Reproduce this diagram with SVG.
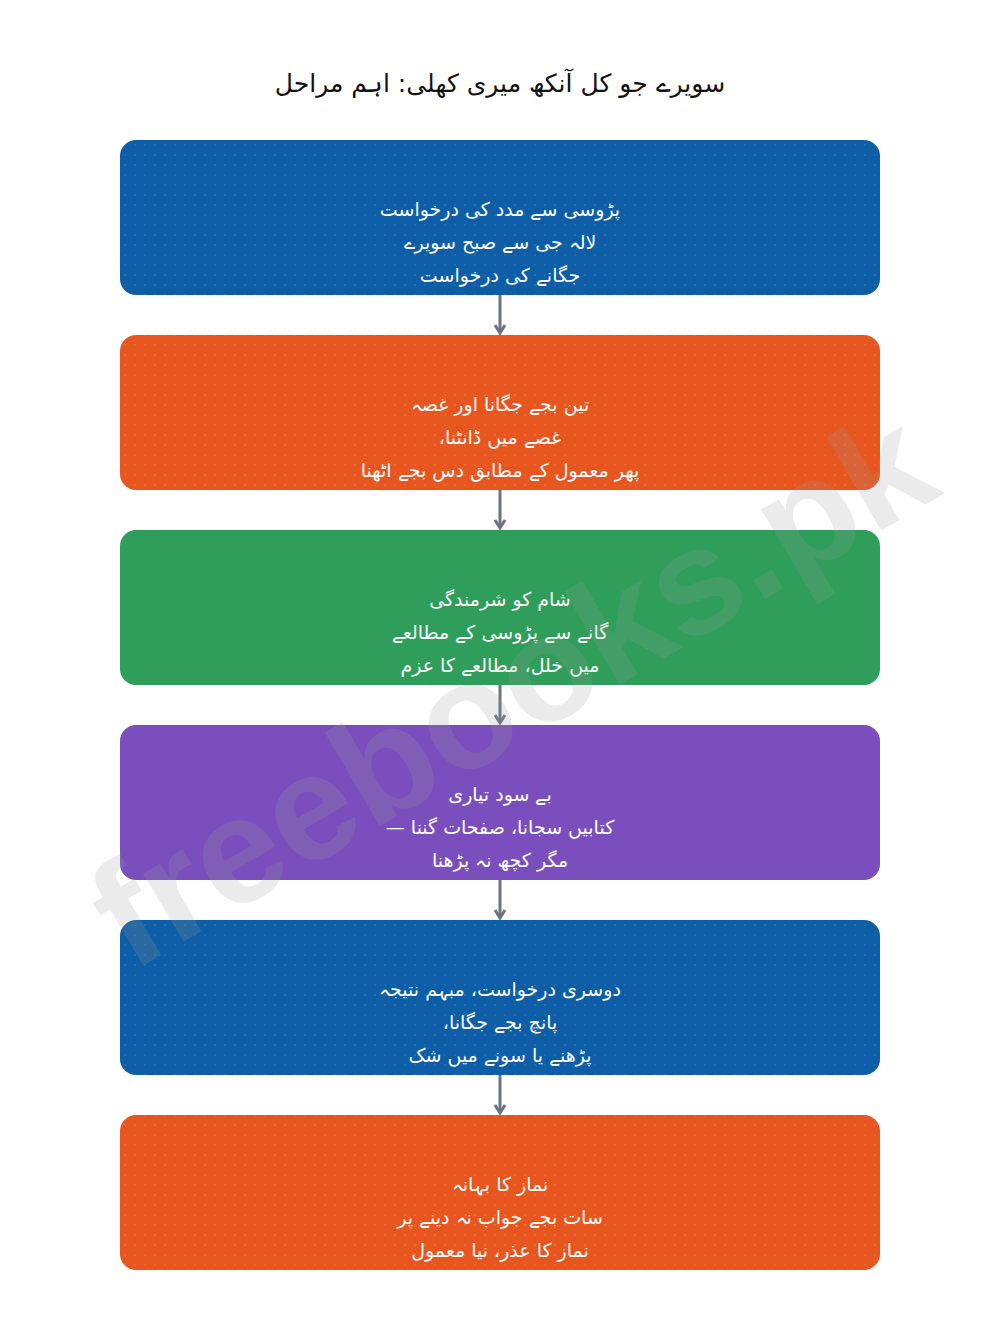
<svg xmlns="http://www.w3.org/2000/svg" width="1000" height="1330" viewBox="0 0 1000 1330">
<defs>
<pattern id="dots" width="10" height="10" patternUnits="userSpaceOnUse"><circle cx="5" cy="5" r="0.9" fill="#ffffff" fill-opacity="0.12"/></pattern>
<marker id="arr" markerWidth="12" markerHeight="12" refX="9" refY="6" orient="auto" markerUnits="userSpaceOnUse"><path d="M1,1 L9,6 L1,11" fill="none" stroke="#6B7280" stroke-width="3"/></marker>
</defs>
<style>
.box{stroke:none}
.t{font-family:"DejaVu Sans",sans-serif;font-size:19px;fill:#ffffff;text-anchor:middle;direction:rtl}
.title{font-family:"DejaVu Sans",sans-serif;font-size:25px;fill:#111111;text-anchor:middle;direction:rtl}
.c{stroke:#6B7280;stroke-width:3;fill:none}
</style>
<rect width="1000" height="1330" fill="#ffffff"/>
<text class="title" x="500" y="92">سویرے جو کل آنکھ میری کھلی: اہم مراحل</text>
<g id="connectors">
<line class="c" x1="500" y1="295" x2="500" y2="333" marker-end="url(#arr)"/>
<line class="c" x1="500" y1="490" x2="500" y2="528" marker-end="url(#arr)"/>
<line class="c" x1="500" y1="685" x2="500" y2="723" marker-end="url(#arr)"/>
<line class="c" x1="500" y1="880" x2="500" y2="918" marker-end="url(#arr)"/>
<line class="c" x1="500" y1="1075" x2="500" y2="1113" marker-end="url(#arr)"/>
</g>
<g id="n1"><rect class="box" x="120" y="140" width="760" height="155" rx="16" fill="#0D5EA6"/><rect x="120" y="140" width="760" height="155" rx="16" fill="url(#dots)"/>
<text class="t" x="500" y="216">پڑوسی سے مدد کی درخواست</text>
<text class="t" x="500" y="249">لالہ جی سے  صبح سویرے</text>
<text class="t" x="500" y="282">جگانے کی درخواست</text></g>
<g id="n2"><rect class="box" x="120" y="335" width="760" height="155" rx="16" fill="#E8561F"/><rect x="120" y="335" width="760" height="155" rx="16" fill="url(#dots)"/>
<text class="t" x="500" y="411">تین بجے جگانا اور غصہ</text>
<text class="t" x="500" y="444">غصے میں ڈانٹنا،</text>
<text class="t" x="500" y="477">پھر معمول کے مطابق دس بجے اٹھنا</text></g>
<g id="n3"><rect class="box" x="120" y="530" width="760" height="155" rx="16" fill="#2E9E5A"/>
<text class="t" x="500" y="606">شام کو شرمندگی</text>
<text class="t" x="500" y="639">گانے سے پڑوسی کے مطالعے</text>
<text class="t" x="500" y="672">میں خلل، مطالعے کا عزم</text></g>
<g id="n4"><rect class="box" x="120" y="725" width="760" height="155" rx="16" fill="#7A4FBD"/>
<text class="t" x="500" y="801">بے سود تیاری</text>
<text class="t" x="500" y="834">کتابیں سجانا، صفحات  گننا —</text>
<text class="t" x="500" y="867">مگر کچھ نہ پڑھنا</text></g>
<g id="n5"><rect class="box" x="120" y="920" width="760" height="155" rx="16" fill="#0D5EA6"/><rect x="120" y="920" width="760" height="155" rx="16" fill="url(#dots)"/>
<text class="t" x="500" y="996">دوسری درخواست، مبہم نتیجہ</text>
<text class="t" x="500" y="1029">پانچ بجے جگانا،</text>
<text class="t" x="500" y="1062">پڑھنے یا سونے میں شک</text></g>
<g id="n6"><rect class="box" x="120" y="1115" width="760" height="155" rx="16" fill="#E8561F"/><rect x="120" y="1115" width="760" height="155" rx="16" fill="url(#dots)"/>
<text class="t" x="500" y="1191">نماز کا بہانہ</text>
<text class="t" x="500" y="1224">سات بجے جواب نہ دینے پر</text>
<text class="t" x="500" y="1257">نماز کا عذر، نیا معمول</text></g>
<text x="0" y="0" transform="translate(538,733) rotate(-30.5)" text-anchor="middle" font-family="Liberation Sans, sans-serif" font-weight="bold" font-size="150" textLength="945" lengthAdjust="spacingAndGlyphs" fill="#9a9a9a" fill-opacity="0.2">freebooks.pk</text>
</svg>
